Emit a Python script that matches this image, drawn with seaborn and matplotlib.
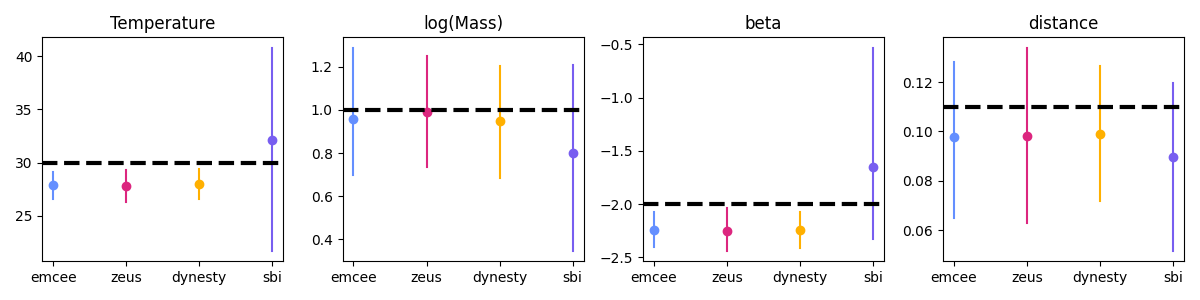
import matplotlib
matplotlib.use("Agg")
import matplotlib.pyplot as plt
import seaborn as sns
import pandas as pd

samplers = ["emcee", "zeus", "dynesty", "sbi"]
colors = ["#648FFF", "#DC267F", "#FFB000", "#785EF0"]
params = ["Temperature", "log(Mass)", "beta", "distance"]
truths = [30.0, 1.0, -2.0, 0.11]

temp_mid = [27.9, 27.8, 28.0, 32.1]
temp_lo = [26.6, 26.3, 26.6, 21.7]
temp_hi = [29.1, 29.3, 29.4, 40.8]

mass_mid = [0.96, 0.99, 0.95, 0.80]
mass_lo = [0.70, 0.735, 0.685, 0.345]
mass_hi = [1.29, 1.25, 1.205, 1.21]

beta_mid = [-2.24, -2.25, -2.24, -1.65]
beta_lo = [-2.40, -2.44, -2.41, -2.33]
beta_hi = [-2.07, -2.04, -2.07, -0.53]

dist_mid = [0.0978, 0.0982, 0.0990, 0.0898]
dist_lo = [0.065, 0.063, 0.072, 0.0515]
dist_hi = [0.128, 0.134, 0.1265, 0.1195]

mids = [temp_mid, mass_mid, beta_mid, dist_mid]
los = [temp_lo, mass_lo, beta_lo, dist_lo]
his = [temp_hi, mass_hi, beta_hi, dist_hi]

fig, axes = plt.subplots(1, 4, figsize=(12, 3), dpi=100)
for ax, name, truth, mid, lo, hi in zip(axes, params, truths, mids, los, his):
    rows = []
    for s, m, l, h in zip(samplers, mid, lo, hi):
        for v in (l, m, h):
            rows.append({"sampler": s, "value": v})
    df = pd.DataFrame(rows)
    sns.pointplot(data=df, x="sampler", y="value", hue="sampler",
                  palette=colors, order=samplers, hue_order=samplers,
                  estimator="median", errorbar=("pi", 100),
                  linestyle="none", markers="o", markersize=5,
                  err_kws={"linewidth": 1.5}, legend=False, ax=ax)
    ax.axhline(truth, color="black", linestyle="--", linewidth=3, zorder=5)
    ax.set_xlim(-0.15, 3.15)
    rng = max(hi) - min(lo)
    ax.set_ylim(min(lo) - 0.05 * rng, max(hi) + 0.05 * rng)
    ax.set_title(name, fontsize=12)
    ax.set_xlabel("")
    ax.set_ylabel("")

fig.tight_layout()
fig.savefig("out.png", dpi=100)
